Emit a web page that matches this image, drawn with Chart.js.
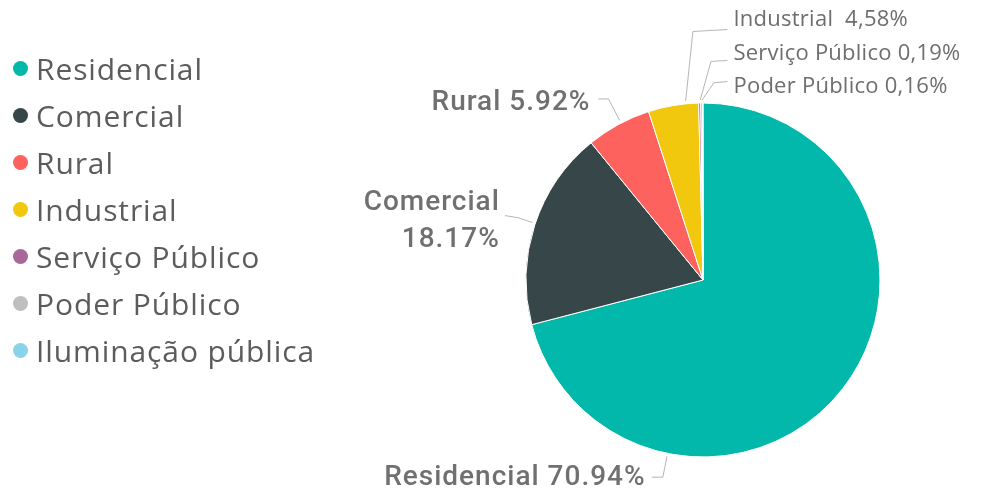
<!DOCTYPE html>
<html>
<head>
<meta charset="utf-8">
<script src="https://cdn.jsdelivr.net/npm/chart.js@4.4.1/dist/chart.umd.min.js"></script>
<style>
  html, body { margin: 0; padding: 0; background: #ffffff; }
  #wrap { position: relative; width: 981px; height: 495px; overflow: hidden; }
  #chart { position: absolute; left: 0; top: 0; }
  #legend { position: absolute; left: 13px; top: 45px; font-family: "Open Sans", sans-serif; font-size: 30px; letter-spacing: 0.9px; color: #5c5c5c; }
  .item { display: flex; align-items: center; height: 47px; white-space: nowrap; }
  .dot { width: 15px; height: 15px; border-radius: 50%; margin-right: 8px; flex: none; }
</style>
</head>
<body>
<div id="wrap">
  <canvas id="chart" width="981" height="495"></canvas>
  <div id="legend"></div>
</div>
<script>
// ---- data ----
const categories = ['Residencial', 'Comercial', 'Rural', 'Industrial', 'Serviço Público', 'Poder Público', 'Iluminação pública'];
const shares = [70.94, 18.17, 5.92, 4.58, 0.19, 0.16, 0.04];
const valueLabels = ['70.94%', '18.17%', '5.92%', '4,58%', '0,19%', '0,16%', ''];
const colors = ['#01B8AA', '#374649', '#FD625E', '#F2C80F', '#A66999', '#BFBFBF', '#8AD4EB'];

// label text lines built from the data
const labelLines = [
  [categories[0] + ' ' + valueLabels[0]],
  [categories[1], valueLabels[1]],
  [categories[2] + ' ' + valueLabels[2]],
  [categories[3] + '  ' + valueLabels[3]],
  [categories[4] + ' ' + valueLabels[4]],
  [categories[5] + ' ' + valueLabels[5]],
  []
];

// label layout, in units of the pie radius relative to the pie centre
const labelLayout = [
  {align: 'right', tx: -0.324, ty: 1.119, lx: -0.290, ly: 1.114, ex: -0.227, ey: 1.114, style: 'big'},
  {align: 'right', tx: -1.148, ty: -0.332, lx: -1.119, ly: -0.364, ex: -1.045, ey: -0.352, style: 'big'},
  {align: 'right', tx: -0.636, ty: -1.0, lx: -0.591, ly: -1.023, ex: -0.534, ey: -1.023, style: 'big'},
  {align: 'left', tx: 0.172, ty: -1.472, lx: 0.138, ly: -1.415, ex: -0.057, ey: -1.404, style: 'small'},
  {align: 'left', tx: 0.172, ty: -1.280, lx: 0.138, ly: -1.240, ex: 0.045, ey: -1.235, style: 'small'},
  {align: 'left', tx: 0.172, ty: -1.093, lx: 0.138, ly: -1.121, ex: 0.0625, ey: -1.115, style: 'small'},
  null
];

// ---- HTML legend ----
const legendEl = document.getElementById('legend');
categories.forEach((c, i) => {
  const row = document.createElement('div');
  row.className = 'item';
  const dot = document.createElement('span');
  dot.className = 'dot';
  dot.style.background = colors[i];
  const txt = document.createElement('span');
  txt.textContent = c;
  row.appendChild(dot);
  row.appendChild(txt);
  legendEl.appendChild(row);
});

// ---- outside labels plugin ----
const outsideLabels = {
  id: 'outsideLabels',
  afterDatasetsDraw(chart) {
    const ctx = chart.ctx;
    const meta = chart.getDatasetMeta(0);
    meta.data.forEach((arc, i) => {
      const L = labelLayout[i];
      if (!L) return;
      const p = arc.getProps(['x', 'y', 'startAngle', 'endAngle', 'outerRadius'], true);
      const r = p.outerRadius;
      const cx = p.x, cy = p.y;
      const ex = cx + L.ex * r, ey = cy + L.ey * r;
      const lx = cx + L.lx * r, ly = cy + L.ly * r;
      let a = Math.atan2(L.ey, L.ex);
      const s = p.startAngle, e = p.endAngle, span = e - s;
      while (a < s) a += Math.PI * 2;
      while (a >= s + Math.PI * 2) a -= Math.PI * 2;
      const lo = s + span * 0.25, hi = e - span * 0.25;
      if (a > hi) {
        const dHi = a - hi, dLo = (lo + Math.PI * 2) - a;
        a = dHi < dLo ? hi : lo;
      } else if (a < lo) a = lo;
      const ax = cx + (r + 3) * Math.cos(a), ay = cy + (r + 3) * Math.sin(a);
      ctx.save();
      ctx.strokeStyle = '#b5b5b5';
      ctx.lineWidth = 1;
      ctx.beginPath();
      ctx.moveTo(lx, ly);
      ctx.lineTo(ex, ey);
      ctx.lineTo(ax, ay);
      ctx.stroke();
      ctx.textAlign = L.align;
      ctx.textBaseline = 'middle';
      if (L.style === 'big') {
        ctx.font = '500 28px Roboto, sans-serif';
        ctx.fillStyle = '#707070';
        try { ctx.letterSpacing = '1px'; } catch (err) {}
      } else {
        ctx.font = '22px "Open Sans", sans-serif';
        ctx.fillStyle = '#6e6e6e';
        try { ctx.letterSpacing = '0.25px'; } catch (err) {}
      }
      const lines = labelLines[i];
      const gap = 37;
      const tx = cx + L.tx * r;
      const ty0 = cy + L.ty * r - (lines.length - 1) * gap / 2;
      lines.forEach((t, k) => ctx.fillText(t, tx, ty0 + k * gap));
      ctx.restore();
    });
  }
};

new Chart(document.getElementById('chart'), {
  type: 'pie',
  data: {
    labels: categories,
    datasets: [{
      data: shares,
      backgroundColor: colors,
      borderColor: '#ffffff',
      borderWidth: 1
    }]
  },
  options: {
    responsive: false,
    devicePixelRatio: 1,
    animation: false,
    radius: 177,
    layout: { padding: { left: 502, right: 77, top: 90, bottom: 25 } },
    plugins: {
      legend: { display: false },
      tooltip: { enabled: false }
    }
  },
  plugins: [outsideLabels]
});
</script>
</body>
</html>
